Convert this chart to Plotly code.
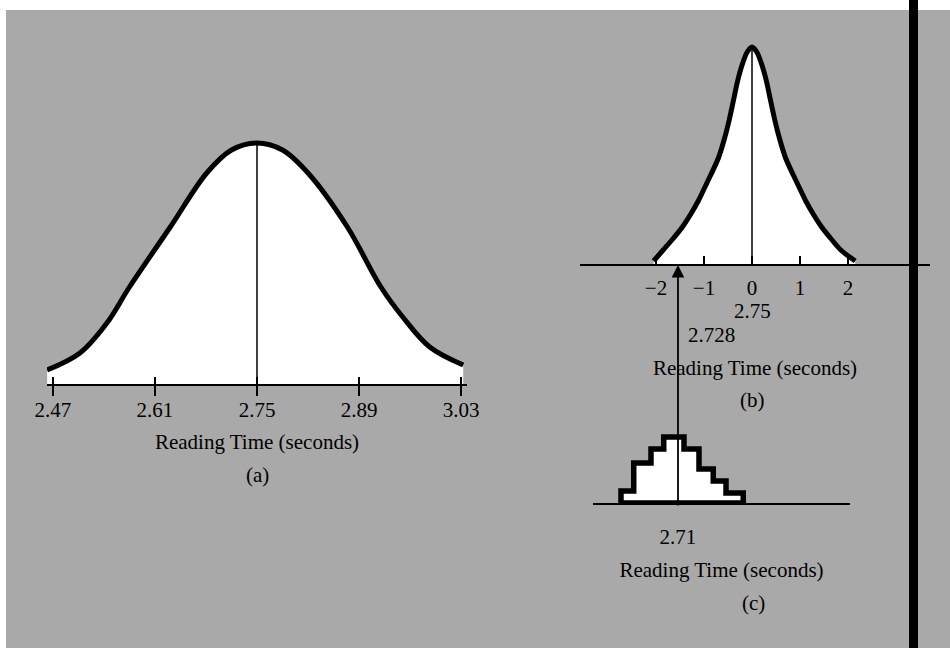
import plotly.graph_objects as go

# ---------------- data ----------------
# (a) population distribution of reading times (relative heights)
times_a = [2.462, 2.507, 2.544, 2.575, 2.631, 2.681, 2.715, 2.75, 2.785, 2.82, 2.874, 2.92, 2.95, 2.987, 3.033]
heights_a = [14, 31, 61, 97, 157, 211, 234, 241, 234, 211, 157, 97, 67, 37, 19]
ticks_a = [2.47, 2.61, 2.75, 2.89, 3.03]
mean_a = 2.75

# (b) sampling distribution, standard units
z_b = [-2.05, -1.85, -1.65, -1.45, -1.3, -1.12, -1.0, -0.86, -0.7, -0.57, -0.47, -0.38, -0.3, -0.2, -0.1, 0,
       0.1, 0.2, 0.3, 0.38, 0.47, 0.57, 0.7, 0.86, 1.0, 1.12, 1.3, 1.45, 1.65, 1.85, 2.15]
heights_b = [3, 14, 25, 37, 48, 63, 75, 89, 106, 126, 145, 165, 183, 200, 212, 217,
             212, 200, 183, 165, 145, 126, 106, 89, 75, 63, 48, 37, 25, 14, 3]
ticks_b = [-2, -1, 0, 1, 2]
ticktext_b = ["\u22122", "\u22121", "0", "1", "2"]
label_mean_b = "2.75"
label_sample_b = "2.728"

# (c) sample histogram
edges_c = [2.634, 2.651, 2.674, 2.691, 2.718, 2.738, 2.757, 2.774, 2.797]
counts_c = [12, 40, 54, 66, 54, 34, 22, 10]
mean_c = 2.71

xtitle = "Reading Time (seconds)"

# ---------------- layout helpers (pixel -> paper) ----------------
W, H = 950, 648
def PX(px):
    return px / W
def PY(py):
    return 1 - py / H

FONT = "Liberation Serif"
FS = 21
BG = "#a9a9a9"

fig = go.Figure()

# (a) curve
fig.add_trace(go.Scatter(x=times_a, y=heights_a, mode="lines", line=dict(color="black", width=5, shape="spline"),
                         fill="tozeroy", fillcolor="white", xaxis="x", yaxis="y", hoverinfo="skip"))
fig.add_trace(go.Scatter(x=[mean_a, mean_a], y=[0, max(heights_a)], mode="lines", line=dict(color="black", width=1.5),
                         xaxis="x", yaxis="y", hoverinfo="skip"))
# dummy for overlay tick axis
fig.add_trace(go.Scatter(x=[mean_a], y=[0], mode="markers", marker=dict(opacity=0), xaxis="x4", yaxis="y", hoverinfo="skip"))

# (b) curve
fig.add_trace(go.Scatter(x=z_b, y=heights_b, mode="lines", line=dict(color="black", width=5, shape="spline", smoothing=0.8),
                         fill="tozeroy", fillcolor="white", xaxis="x2", yaxis="y2", hoverinfo="skip"))
fig.add_trace(go.Scatter(x=[0, 0], y=[0, max(heights_b)], mode="lines", line=dict(color="black", width=1.5),
                         xaxis="x2", yaxis="y2", hoverinfo="skip"))

# (c) histogram outline (steps)
hx = [edges_c[0]] + edges_c + [edges_c[0]]
hy = [0] + counts_c + [0, 0]
fig.add_trace(go.Scatter(x=hx, y=hy, mode="lines", line=dict(color="black", width=5.5, shape="hv"),
                         fill="toself", fillcolor="white", xaxis="x3", yaxis="y3", hoverinfo="skip"))

axis_common = dict(showgrid=False, zeroline=False, showline=True, linecolor="black", automargin=False,
                   tickfont=dict(family=FONT, size=FS, color="black"), tickcolor="black")

fig.update_layout(
    template="none",
    width=W, height=H, margin=dict(l=0, r=0, t=0, b=0, pad=0), autosize=False,
    paper_bgcolor="white", plot_bgcolor="rgba(0,0,0,0)", showlegend=False,
    font=dict(family=FONT, size=FS, color="black"),
    xaxis=dict(domain=[PX(47), PX(467)], range=[2.4618, 3.0382], anchor="y",
               tickvals=ticks_a, ticktext=[f"{t:.2f}" for t in ticks_a], ticks="outside", ticklen=10, tickwidth=1.5,
               linewidth=2, ticklabelstandoff=-4,
               title=dict(text=xtitle, font=dict(family=FONT, size=FS), standoff=13), **axis_common),
    xaxis4=dict(overlaying="x", matches="x", anchor="y", tickvals=ticks_a, ticks="inside", ticklen=7, tickwidth=1.5,
                tickcolor="black", showticklabels=False, showline=False, showgrid=False, zeroline=False,
                automargin=False),
    yaxis=dict(domain=[PY(384), PY(130)], range=[0, 254], visible=False, anchor="x", automargin=False),
    xaxis2=dict(domain=[PX(580), PX(930)], range=[-3.583, 3.708], anchor="y2",
                tickvals=ticks_b, ticktext=ticktext_b, ticks="inside", ticklen=8, tickwidth=1.5, linewidth=2,
                ticklabelstandoff=4,
                title=dict(text=xtitle, font=dict(family=FONT, size=FS), standoff=61), **axis_common),
    yaxis2=dict(domain=[PY(264), PY(20)], range=[0, 244], visible=False, anchor="x2", automargin=False),
    xaxis3=dict(domain=[PX(593), PX(850)], range=[2.5967, 2.9393], anchor="y3",
                tickvals=[mean_c], ticktext=[f"{mean_c:.2f}"], ticks="", linewidth=1.5,
                ticklabelstandoff=14,
                title=dict(text=xtitle, font=dict(family=FONT, size=FS), standoff=14), **axis_common),
    yaxis3=dict(domain=[PY(503), PY(420)], range=[0, 83], visible=False, anchor="x3", automargin=False),
)

# background scan tone and black binding bar
fig.add_shape(type="rect", xref="paper", yref="paper", x0=PX(6), x1=1, y0=0, y1=PY(10),
              fillcolor=BG, line=dict(width=0), layer="below")
fig.add_shape(type="rect", xref="paper", yref="paper", x0=PX(909), x1=PX(918), y0=0, y1=1,
              fillcolor="black", line=dict(width=0), layer="above")

# arrow from the histogram mean up to panel (b)
fig.add_annotation(xref="x3", yref="paper", x=mean_c, y=PY(265), ax=0, ay=507 - 265, axref="pixel", ayref="pixel",
                   showarrow=True, arrowhead=2, arrowsize=1.4, arrowwidth=1.8, arrowcolor="black", text="", standoff=0)

ann_font = dict(family=FONT, size=FS, color="black")
def label(xref, x, py, text, **kw):
    fig.add_annotation(xref=xref, yref="paper", x=x, y=PY(py), text=text, showarrow=False,
                       yanchor="middle", font=ann_font, **kw)

label("x2", 0, 311, label_mean_b)
label("x3", mean_c, 335, label_sample_b, xanchor="left", xshift=8)
label("x domain", 0.5, 475, "(a)")
label("x2", 0, 400, "(b)")
label("x3", 2.81, 603, "(c)")

fig.write_html(
    "out.html",
    config={"displayModeBar": False, "responsive": False},
    post_script="document.documentElement.style.margin='0';document.body.style.margin='0';"
                "document.body.style.padding='0';document.body.style.overflow='hidden';"
                "document.documentElement.style.overflow='hidden';",
)
